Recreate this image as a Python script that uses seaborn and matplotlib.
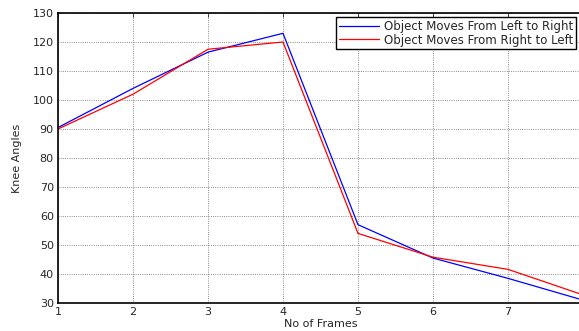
import pandas as pd
import seaborn as sns
import matplotlib.pyplot as plt

# Knee angle per frame for both walking directions
frames = [1, 2, 3, 4, 5, 6, 7, 8]
left_to_right = [90.5, 104.0, 116.5, 123.0, 57.0, 45.5, 38.5, 31.0]
right_to_left = [90.0, 102.0, 117.5, 120.0, 54.0, 45.8, 41.6, 32.8]
x_ticks = [1, 2, 3, 4, 5, 6, 7, 8]
x_tick_labels = ['1', '2', '3', '4', '5', '6', '7', '']
y_ticks = [30, 40, 50, 60, 70, 80, 90, 100, 110, 120, 130]

data = pd.DataFrame({'frame': frames * 2,
                     'angle': left_to_right + right_to_left,
                     'series': ['Object Moves From Left to Right'] * len(frames)
                               + ['Object Moves From Right to Left'] * len(frames)})

sns.set_style("white")
plt.rcParams['font.family'] = ['DejaVu Sans']

fig = plt.figure(figsize=(5.79, 3.31), dpi=100)
# the right end of the axes runs just past the image edge, as in the original
ax = fig.add_axes([58 / 579, 1 - 303 / 331, 525 / 579, 290 / 331])

sns.lineplot(x='frame', y='angle', hue='series', data=data,
             palette=['#0000ff', '#ff0000'], linewidth=0.9, ax=ax, legend=False)

ax.set_xlim(1, 8)
ax.set_ylim(30, 130)
ax.set_xticks(x_ticks)
ax.set_xticklabels(x_tick_labels)
ax.set_yticks(y_ticks)
ax.tick_params(direction='in', top=True, right=True, labelsize=8, length=3, width=0.6, pad=3)
ax.grid(True, color='#666666', linestyle=':', linewidth=0.6)
for s in ax.spines.values():
    s.set_linewidth(1.2)
    s.set_color('black')

ax.set_xlabel('No of Frames', fontsize=8, labelpad=1)
ax.set_ylabel('Knee Angles', fontsize=8, labelpad=8)

handles = ax.get_lines()[:2]
leg = fig.legend(handles, ['Object Moves From Left to Right', 'Object Moves From Right to Left'],
                 loc='upper right', bbox_to_anchor=(576 / 579, 1 - 17 / 331),
                 fontsize=8.5, frameon=True, fancybox=False, borderaxespad=0,
                 handlelength=3.4, handletextpad=0.4, borderpad=0.25, labelspacing=0.05)
leg.get_frame().set_edgecolor('black')
leg.get_frame().set_linewidth(1.0)
leg.get_frame().set_alpha(1)

fig.savefig('out.png', dpi=100)
